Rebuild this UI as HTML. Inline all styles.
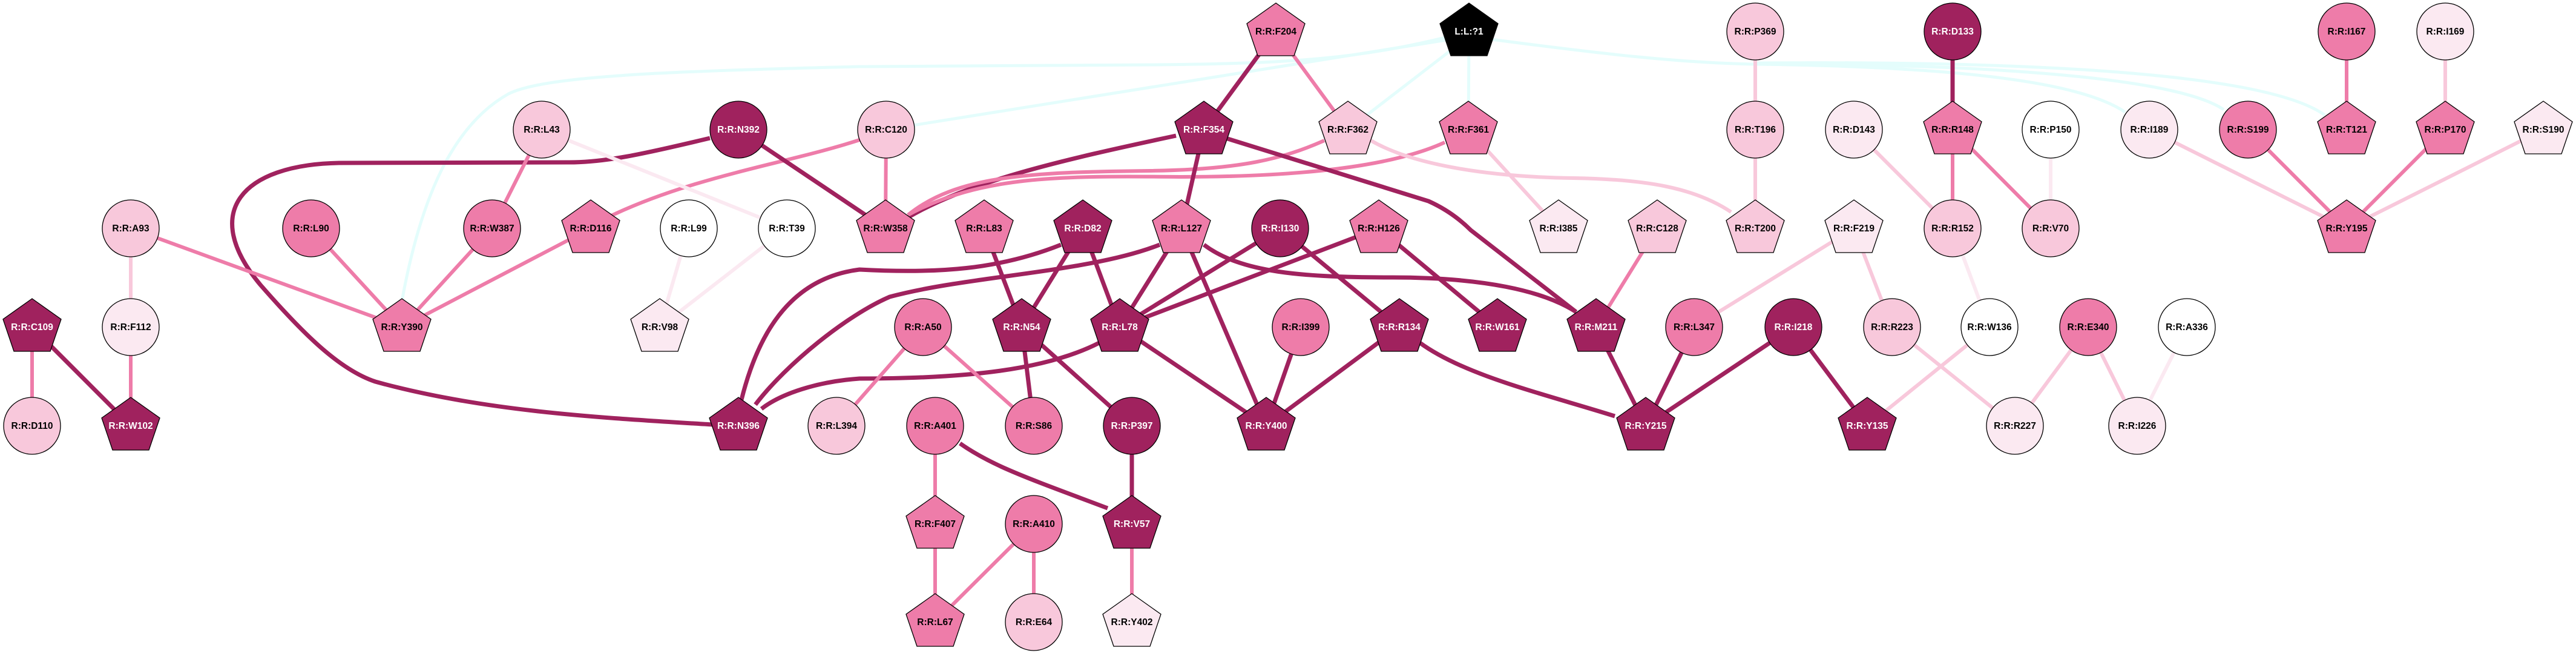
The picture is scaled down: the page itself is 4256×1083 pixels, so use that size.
<!DOCTYPE html>
<html><head><meta charset="utf-8"><style>
html,body{margin:0;padding:0;background:#fff;}
svg{display:block;}
text{font-family:"Liberation Sans",Arial,sans-serif;font-weight:bold;font-size:15.5px;text-anchor:middle;}
.w{fill:#fff}.b{fill:#000}
.D{stroke:#A0225E;stroke-width:7;fill:none}
.M{stroke:#EE7CA9;stroke-width:6;fill:none}
.L{stroke:#F8C8DB;stroke-width:6;fill:none}
.V{stroke:#FBE9F1;stroke-width:6;fill:none}
.C{stroke:#E4FDFC;stroke-width:5;fill:none}
.n{stroke:#000;stroke-width:1.3}
</style></head><body>
<svg width="4256" height="1083" viewBox="0 0 4256 1083" xmlns="http://www.w3.org/2000/svg">
<!-- cyan edges -->
<path class="C" d="M2387,62 C2250,95 2150,105 1900,107 L1420,110 C1100,118 900,125 840,155 C760,200 700,300 664,497"/>
<path class="C" d="M2427,60 L1464,214"/>
<path class="C" d="M2427,60 L2227,214"/>
<path class="C" d="M2427,60 L2426,214"/>
<path class="C" d="M2427,60 C2650,90 2780,104 2900,106 C3200,110 3430,130 3511,185"/>
<path class="C" d="M2900,106 C3300,105 3600,130 3674,181"/>
<path class="C" d="M2900,104 C3400,100 3750,125 3841,190"/>
<!-- curved edges -->
<path class="D" d="M1173,228 C1060,255 1000,268 940,268 L560,269 C400,272 330,350 430,470 C500,550 560,610 620,630 C800,680 1000,690 1177,701"/>
<path class="M" d="M1420,231 C1300,270 1150,290 1010,356"/>
<path class="D" d="M1943,224 C1750,265 1600,300 1500,359"/>
<path class="M" d="M2387,235 C2300,275 2150,292 1950,292 C1750,290 1620,290 1500,355"/>
<path class="M" d="M2188,232 C2120,262 2050,280 1900,282 C1700,284 1580,290 1500,355"/>
<path class="D" d="M2025,228 L2360,332 Q2400,350 2430,380 L2604,515"/>
<path class="L" d="M2265,232 C2330,270 2450,292 2600,294 C2720,296 2800,310 2860,350"/>
<path class="D" d="M1753,404 C1650,445 1550,452 1420,445 C1300,460 1250,560 1225,660"/>
<path class="D" d="M1916,404 C1800,450 1600,455 1470,490 C1400,520 1300,600 1248,668"/>
<path class="D" d="M1816,566 C1730,610 1600,625 1420,625 C1350,630 1290,650 1258,675"/>
<path class="D" d="M1989,404 C2050,450 2150,458 2300,458 C2450,458 2550,480 2604,515"/>
<path class="D" d="M2346,566 C2420,620 2550,650 2668,687"/>
<path class="D" d="M1586,732 C1640,770 1700,790 1830,839"/>
<!-- straight mid -->
<g class="M">
<line x1="895" y1="214" x2="813" y2="377"/>
<line x1="216" y1="377" x2="664" y2="540"/>
<line x1="514" y1="377" x2="664" y2="540"/>
<line x1="813" y1="377" x2="664" y2="540"/>
<line x1="976" y1="377" x2="664" y2="540"/>
<line x1="53" y1="540" x2="53" y2="703"/>
<line x1="216" y1="540" x2="216" y2="703"/>
<line x1="2108" y1="52" x2="2227" y2="214"/>
<line x1="1464" y1="214" x2="1463" y2="377"/>
<line x1="1525" y1="540" x2="1382" y2="703"/>
<line x1="1525" y1="540" x2="1708" y2="703"/>
<line x1="2738" y1="377" x2="2637" y2="540"/>
<line x1="1545" y1="703" x2="1545" y2="865"/>
<line x1="1545" y1="865" x2="1545" y2="1027"/>
<line x1="1708" y1="865" x2="1545" y2="1027"/>
<line x1="1708" y1="865" x2="1708" y2="1027"/>
<line x1="1870" y1="865" x2="1870" y2="1027"/>
<line x1="3226" y1="214" x2="3226" y2="377"/>
<line x1="3226" y1="214" x2="3388" y2="377"/>
<line x1="3714" y1="214" x2="3877" y2="377"/>
<line x1="3877" y1="52" x2="3877" y2="214"/>
<line x1="4040" y1="214" x2="3877" y2="377"/>
</g>
<g class="L">
<line x1="216" y1="377" x2="216" y2="540"/>
<line x1="2426" y1="214" x2="2575" y2="377"/>
<line x1="2900" y1="52" x2="2900" y2="214"/>
<line x1="2900" y1="214" x2="2900" y2="377"/>
<line x1="3063" y1="214" x2="3226" y2="377"/>
<line x1="3551" y1="214" x2="3877" y2="377"/>
<line x1="4040" y1="52" x2="4040" y2="214"/>
<line x1="4202" y1="214" x2="3877" y2="377"/>
<line x1="3063" y1="377" x2="2799" y2="540"/>
<line x1="3063" y1="377" x2="3126" y2="540"/>
<line x1="3287" y1="540" x2="3085" y2="703"/>
<line x1="3126" y1="540" x2="3329" y2="703"/>
<line x1="3450" y1="540" x2="3329" y2="703"/>
<line x1="3450" y1="540" x2="3531" y2="703"/>
</g>
<g class="V">
<line x1="895" y1="214" x2="1300" y2="377"/>
<line x1="1138" y1="377" x2="1090" y2="540"/>
<line x1="1300" y1="377" x2="1090" y2="540"/>
<line x1="3388" y1="214" x2="3388" y2="377"/>
<line x1="3226" y1="377" x2="3287" y2="540"/>
<line x1="3613" y1="540" x2="3531" y2="703"/>
</g>
<g class="D">
<line x1="53" y1="540" x2="216" y2="703"/>
<line x1="2108" y1="52" x2="1989" y2="214"/>
<line x1="1220" y1="214" x2="1463" y2="377"/>
<line x1="1989" y1="214" x2="1952" y2="377"/>
<line x1="1626" y1="377" x2="1688" y2="540"/>
<line x1="1789" y1="377" x2="1688" y2="540"/>
<line x1="1789" y1="377" x2="1850" y2="540"/>
<line x1="1952" y1="377" x2="1850" y2="540"/>
<line x1="1952" y1="377" x2="2092" y2="703"/>
<line x1="2115" y1="377" x2="1850" y2="540"/>
<line x1="2115" y1="377" x2="2312" y2="540"/>
<line x1="2278" y1="377" x2="1850" y2="540"/>
<line x1="2278" y1="377" x2="2474" y2="540"/>
<line x1="1850" y1="540" x2="2092" y2="703"/>
<line x1="1688" y1="540" x2="1708" y2="703"/>
<line x1="1688" y1="540" x2="1870" y2="703"/>
<line x1="2149" y1="540" x2="2092" y2="703"/>
<line x1="2312" y1="540" x2="2092" y2="703"/>
<line x1="2637" y1="540" x2="2719" y2="703"/>
<line x1="2799" y1="540" x2="2719" y2="703"/>
<line x1="1870" y1="703" x2="1870" y2="865"/>
<line x1="2963" y1="540" x2="2719" y2="703"/>
<line x1="2963" y1="540" x2="3085" y2="703"/>
<line x1="3226" y1="52" x2="3226" y2="214"/>
</g>
<!-- nodes -->
<defs>
<polygon id="pg" points="0,-47 48,-13 30,40 -30,40 -48,-13"/>
</defs>
<g class="n">
<!-- row1 -->
<use href="#pg" x="2108" y="52" fill="#EE7CA9"/>
<use href="#pg" x="2427" y="52" fill="#000"/>
<circle cx="2900" cy="52" r="47" fill="#F8C8DB"/>
<circle cx="3226" cy="52" r="47" fill="#A0225E"/>
<circle cx="3877" cy="52" r="47" fill="#EE7CA9"/>
<circle cx="4040" cy="52" r="47" fill="#FBE9F1"/>
<!-- row2 -->
<circle cx="895" cy="214" r="47" fill="#F8C8DB"/>
<circle cx="1220" cy="214" r="47" fill="#A0225E"/>
<circle cx="1464" cy="214" r="47" fill="#F8C8DB"/>
<use href="#pg" x="1989" y="214" fill="#A0225E"/>
<use href="#pg" x="2227" y="214" fill="#F8C8DB"/>
<use href="#pg" x="2426" y="214" fill="#EE7CA9"/>
<circle cx="2900" cy="214" r="47" fill="#F8C8DB"/>
<circle cx="3063" cy="214" r="47" fill="#FBE9F1"/>
<use href="#pg" x="3226" y="214" fill="#EE7CA9"/>
<circle cx="3388" cy="214" r="47" fill="#FFFFFF"/>
<circle cx="3551" cy="214" r="47" fill="#FBE9F1"/>
<circle cx="3714" cy="214" r="47" fill="#EE7CA9"/>
<use href="#pg" x="3877" y="214" fill="#EE7CA9"/>
<use href="#pg" x="4040" y="214" fill="#EE7CA9"/>
<use href="#pg" x="4202" y="214" fill="#FBE9F1"/>
<!-- row3 -->
<circle cx="216" cy="377" r="47" fill="#F8C8DB"/>
<circle cx="514" cy="377" r="47" fill="#EE7CA9"/>
<circle cx="813" cy="377" r="47" fill="#EE7CA9"/>
<use href="#pg" x="976" y="377" fill="#EE7CA9"/>
<circle cx="1138" cy="377" r="47" fill="#FFFFFF"/>
<circle cx="1300" cy="377" r="47" fill="#FFFFFF"/>
<use href="#pg" x="1463" y="377" fill="#EE7CA9"/>
<use href="#pg" x="1626" y="377" fill="#EE7CA9"/>
<use href="#pg" x="1789" y="377" fill="#A0225E"/>
<use href="#pg" x="1952" y="377" fill="#EE7CA9"/>
<circle cx="2115" cy="377" r="47" fill="#A0225E"/>
<use href="#pg" x="2278" y="377" fill="#EE7CA9"/>
<use href="#pg" x="2575" y="377" fill="#FBE9F1"/>
<use href="#pg" x="2738" y="377" fill="#F8C8DB"/>
<use href="#pg" x="2900" y="377" fill="#F8C8DB"/>
<use href="#pg" x="3063" y="377" fill="#FBE9F1"/>
<circle cx="3226" cy="377" r="47" fill="#F8C8DB"/>
<circle cx="3388" cy="377" r="47" fill="#F8C8DB"/>
<use href="#pg" x="3877" y="377" fill="#EE7CA9"/>
<!-- row4 -->
<use href="#pg" x="53" y="540" fill="#A0225E"/>
<circle cx="216" cy="540" r="47" fill="#FBE9F1"/>
<use href="#pg" x="664" y="540" fill="#EE7CA9"/>
<use href="#pg" x="1090" y="540" fill="#FBE9F1"/>
<circle cx="1525" cy="540" r="47" fill="#EE7CA9"/>
<use href="#pg" x="1688" y="540" fill="#A0225E"/>
<use href="#pg" x="1850" y="540" fill="#A0225E"/>
<circle cx="2149" cy="540" r="47" fill="#EE7CA9"/>
<use href="#pg" x="2312" y="540" fill="#A0225E"/>
<use href="#pg" x="2474" y="540" fill="#A0225E"/>
<use href="#pg" x="2637" y="540" fill="#A0225E"/>
<circle cx="2799" cy="540" r="47" fill="#EE7CA9"/>
<circle cx="2963" cy="540" r="47" fill="#A0225E"/>
<circle cx="3126" cy="540" r="47" fill="#F8C8DB"/>
<circle cx="3287" cy="540" r="47" fill="#FFFFFF"/>
<circle cx="3450" cy="540" r="47" fill="#EE7CA9"/>
<circle cx="3613" cy="540" r="47" fill="#FFFFFF"/>
<!-- row5 -->
<circle cx="53" cy="703" r="47" fill="#F8C8DB"/>
<use href="#pg" x="216" y="703" fill="#A0225E"/>
<use href="#pg" x="1220" y="703" fill="#A0225E"/>
<circle cx="1382" cy="703" r="47" fill="#F8C8DB"/>
<circle cx="1545" cy="703" r="47" fill="#EE7CA9"/>
<circle cx="1708" cy="703" r="47" fill="#EE7CA9"/>
<circle cx="1870" cy="703" r="47" fill="#A0225E"/>
<use href="#pg" x="2092" y="703" fill="#A0225E"/>
<use href="#pg" x="2719" y="703" fill="#A0225E"/>
<use href="#pg" x="3085" y="703" fill="#A0225E"/>
<circle cx="3329" cy="703" r="47" fill="#FBE9F1"/>
<circle cx="3531" cy="703" r="47" fill="#FBE9F1"/>
<!-- row6 -->
<use href="#pg" x="1545" y="865" fill="#EE7CA9"/>
<circle cx="1708" cy="865" r="47" fill="#EE7CA9"/>
<use href="#pg" x="1870" y="865" fill="#A0225E"/>
<!-- row7 -->
<use href="#pg" x="1545" y="1027" fill="#EE7CA9"/>
<circle cx="1708" cy="1027" r="47" fill="#F8C8DB"/>
<use href="#pg" x="1870" y="1027" fill="#FBE9F1"/>
</g>
<!-- labels -->
<g>
<text x="2108" y="57">R:R:F204</text>
<text x="2427" y="57" class="w">L:L:?1</text>
<text x="2900" y="57">R:R:P369</text>
<text x="3226" y="57" class="w">R:R:D133</text>
<text x="3877" y="57">R:R:I167</text>
<text x="4040" y="57">R:R:I169</text>

<text x="895" y="219">R:R:L43</text>
<text x="1220" y="219" class="w">R:R:N392</text>
<text x="1464" y="219">R:R:C120</text>
<text x="1989" y="219" class="w">R:R:F354</text>
<text x="2227" y="219">R:R:F362</text>
<text x="2426" y="219">R:R:F361</text>
<text x="2900" y="219">R:R:T196</text>
<text x="3063" y="219">R:R:D143</text>
<text x="3226" y="219">R:R:R148</text>
<text x="3388" y="219">R:R:P150</text>
<text x="3551" y="219">R:R:I189</text>
<text x="3714" y="219">R:R:S199</text>
<text x="3877" y="219">R:R:T121</text>
<text x="4040" y="219">R:R:P170</text>
<text x="4202" y="219">R:R:S190</text>

<text x="216" y="382">R:R:A93</text>
<text x="514" y="382">R:R:L90</text>
<text x="813" y="382">R:R:W387</text>
<text x="976" y="382">R:R:D116</text>
<text x="1138" y="382">R:R:L99</text>
<text x="1300" y="382">R:R:T39</text>
<text x="1463" y="382">R:R:W358</text>
<text x="1626" y="382">R:R:L83</text>
<text x="1789" y="382" class="w">R:R:D82</text>
<text x="1952" y="382">R:R:L127</text>
<text x="2115" y="382" class="w">R:R:I130</text>
<text x="2278" y="382">R:R:H126</text>
<text x="2575" y="382">R:R:I385</text>
<text x="2738" y="382">R:R:C128</text>
<text x="2900" y="382">R:R:T200</text>
<text x="3063" y="382">R:R:F219</text>
<text x="3226" y="382">R:R:R152</text>
<text x="3388" y="382">R:R:V70</text>
<text x="3877" y="382">R:R:Y195</text>

<text x="53" y="545" class="w">R:R:C109</text>
<text x="216" y="545">R:R:F112</text>
<text x="664" y="545">R:R:Y390</text>
<text x="1090" y="545">R:R:V98</text>
<text x="1525" y="545">R:R:A50</text>
<text x="1688" y="545" class="w">R:R:N54</text>
<text x="1850" y="545" class="w">R:R:L78</text>
<text x="2149" y="545">R:R:I399</text>
<text x="2312" y="545" class="w">R:R:R134</text>
<text x="2474" y="545" class="w">R:R:W161</text>
<text x="2637" y="545" class="w">R:R:M211</text>
<text x="2799" y="545">R:R:L347</text>
<text x="2963" y="545" class="w">R:R:I218</text>
<text x="3126" y="545">R:R:R223</text>
<text x="3287" y="545">R:R:W136</text>
<text x="3450" y="545">R:R:E340</text>
<text x="3613" y="545">R:R:A336</text>

<text x="53" y="708">R:R:D110</text>
<text x="216" y="708" class="w">R:R:W102</text>
<text x="1220" y="708" class="w">R:R:N396</text>
<text x="1382" y="708">R:R:L394</text>
<text x="1545" y="708">R:R:A401</text>
<text x="1708" y="708">R:R:S86</text>
<text x="1870" y="708" class="w">R:R:P397</text>
<text x="2092" y="708" class="w">R:R:Y400</text>
<text x="2719" y="708" class="w">R:R:Y215</text>
<text x="3085" y="708" class="w">R:R:Y135</text>
<text x="3329" y="708">R:R:R227</text>
<text x="3531" y="708">R:R:I226</text>

<text x="1545" y="870">R:R:F407</text>
<text x="1708" y="870">R:R:A410</text>
<text x="1870" y="870" class="w">R:R:V57</text>

<text x="1545" y="1032">R:R:L67</text>
<text x="1708" y="1032">R:R:E64</text>
<text x="1870" y="1032">R:R:Y402</text>
</g>
</svg>
</body></html>
